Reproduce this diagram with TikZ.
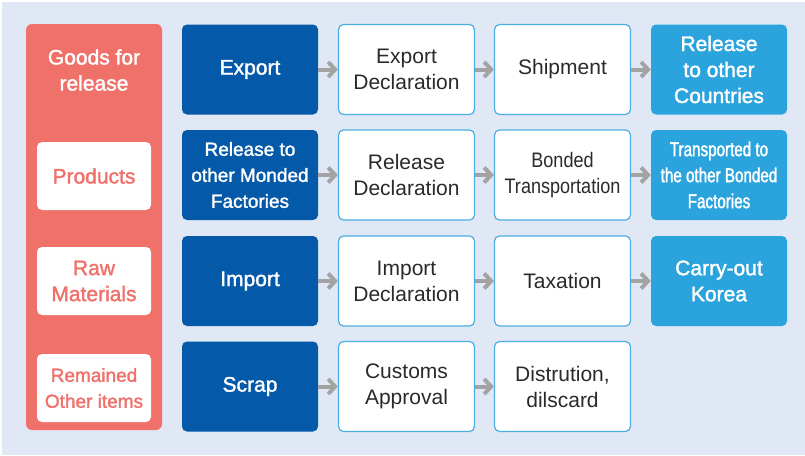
\documentclass[tikz,border=0pt]{standalone}
\usepackage{fontspec}
\setmainfont{Liberation Sans}
\newfontfamily\medfont[FakeBold=1.6]{Liberation Sans}
\newfontfamily\narrowfont[FakeStretch=0.86]{Liberation Sans}
\newfontfamily\narrowmedfont[FakeStretch=0.76,FakeBold=1.6]{Liberation Sans}
\usepackage{tikz}
\usetikzlibrary{positioning,arrows.meta}
\definecolor{panel}{HTML}{E1E8F5}
\definecolor{salmon}{HTML}{F0706A}
\definecolor{dkblue}{HTML}{0459A8}
\definecolor{ltblue}{HTML}{2BA3DD}
\definecolor{edge}{HTML}{4AAEE3}
\definecolor{arrgray}{HTML}{A3A3A3}
\definecolor{ink}{HTML}{2A2A2A}
\tikzset{box/.style = {rounded corners=5pt,minimum width=136pt,minimum height=90pt,inner sep=0pt,align=center,font=\fontsize{21}{26}\selectfont},
         dark/.style = {box,fill=dkblue,text=white,font=\medfont\fontsize{21}{26}\selectfont},
         plain/.style = {box,fill=white,draw=edge,line width=1.2pt,text=ink},
         light/.style = {box,fill=ltblue,text=white,font=\medfont\fontsize{21}{26}\selectfont},
         item/.style = {rounded corners=5pt,minimum width=114pt,minimum height=68pt,inner sep=0pt,align=center,fill=white,text=salmon,font=\medfont\fontsize{21}{26}\selectfont},
         arr/.style = {draw=arrgray,line width=4pt,-{Straight Barb[length=7pt,width=15pt]}}}
\begin{document}
\begin{tikzpicture}[x=1pt,y=-1pt]
    \useasboundingbox (0,0) rectangle (805,455);
    \fill[panel] (2,2) rectangle (805,455);
    % goods for release
    \node[fill=salmon,rounded corners=6pt,minimum width=136pt,minimum height=406pt] (G) at (94,227) {};
    \node[text=white,align=center,font=\medfont\fontsize{21}{26}\selectfont] (g) at (94,70) {Goods for\\release};
    \node[item] (p) at (94,176) {Products};
    \node[item] (r) at (94,281) {Raw\\Materials};
    \node[item,font=\medfont\fontsize{19}{26}\selectfont] (o) at (94,388) {Remained\\Other items};
    % export
    \node[dark]  (a1) at (250,69.5)   {Export};
    \node[plain] (a2) at (406.5,69.5) {Export\\Declaration};
    \node[plain] (a3) at (562.5,69.5) {Shipment};
    \node[light] (a4) at (719,69.5)   {Release\\to other\\Countries};
    % bonded factories
    \node[dark,font=\medfont\fontsize{19}{26}\selectfont] (b1) at (250,175) {Release to\\other Monded\\Factories};
    \node[plain] (b2) at (406.5,175) {Release\\Declaration};
    \node[plain,font=\narrowfont\fontsize{21}{26}\selectfont] (b3) at (562.5,175) {Bonded\\Transportation};
    \node[light,font=\narrowmedfont\fontsize{20}{26}\selectfont] (b4) at (719,175) {Transported to\\the other Bonded\\Factories};
    % import
    \node[dark]  (c1) at (250,281)   {Import};
    \node[plain] (c2) at (406.5,281) {Import\\Declaration};
    \node[plain] (c3) at (562.5,281) {Taxation};
    \node[light] (c4) at (719,281)   {Carry-out\\Korea};
    % scrap
    \node[dark]  (d1) at (250,386.5)   {Scrap};
    \node[plain] (d2) at (406.5,386.5) {Customs\\Approval};
    \node[plain] (d3) at (562.5,386.5) {Distrution,\\dilscard};
    \draw[arr] (a1) -- (a2);
    \draw[arr] (a2) -- (a3);
    \draw[arr] (a3) -- (a4);
    \draw[arr] (b1) -- (b2);
    \draw[arr] (b2) -- (b3);
    \draw[arr] (b3) -- (b4);
    \draw[arr] (c1) -- (c2);
    \draw[arr] (c2) -- (c3);
    \draw[arr] (c3) -- (c4);
    \draw[arr] (d1) -- (d2);
    \draw[arr] (d2) -- (d3);
\end{tikzpicture}
\end{document}
